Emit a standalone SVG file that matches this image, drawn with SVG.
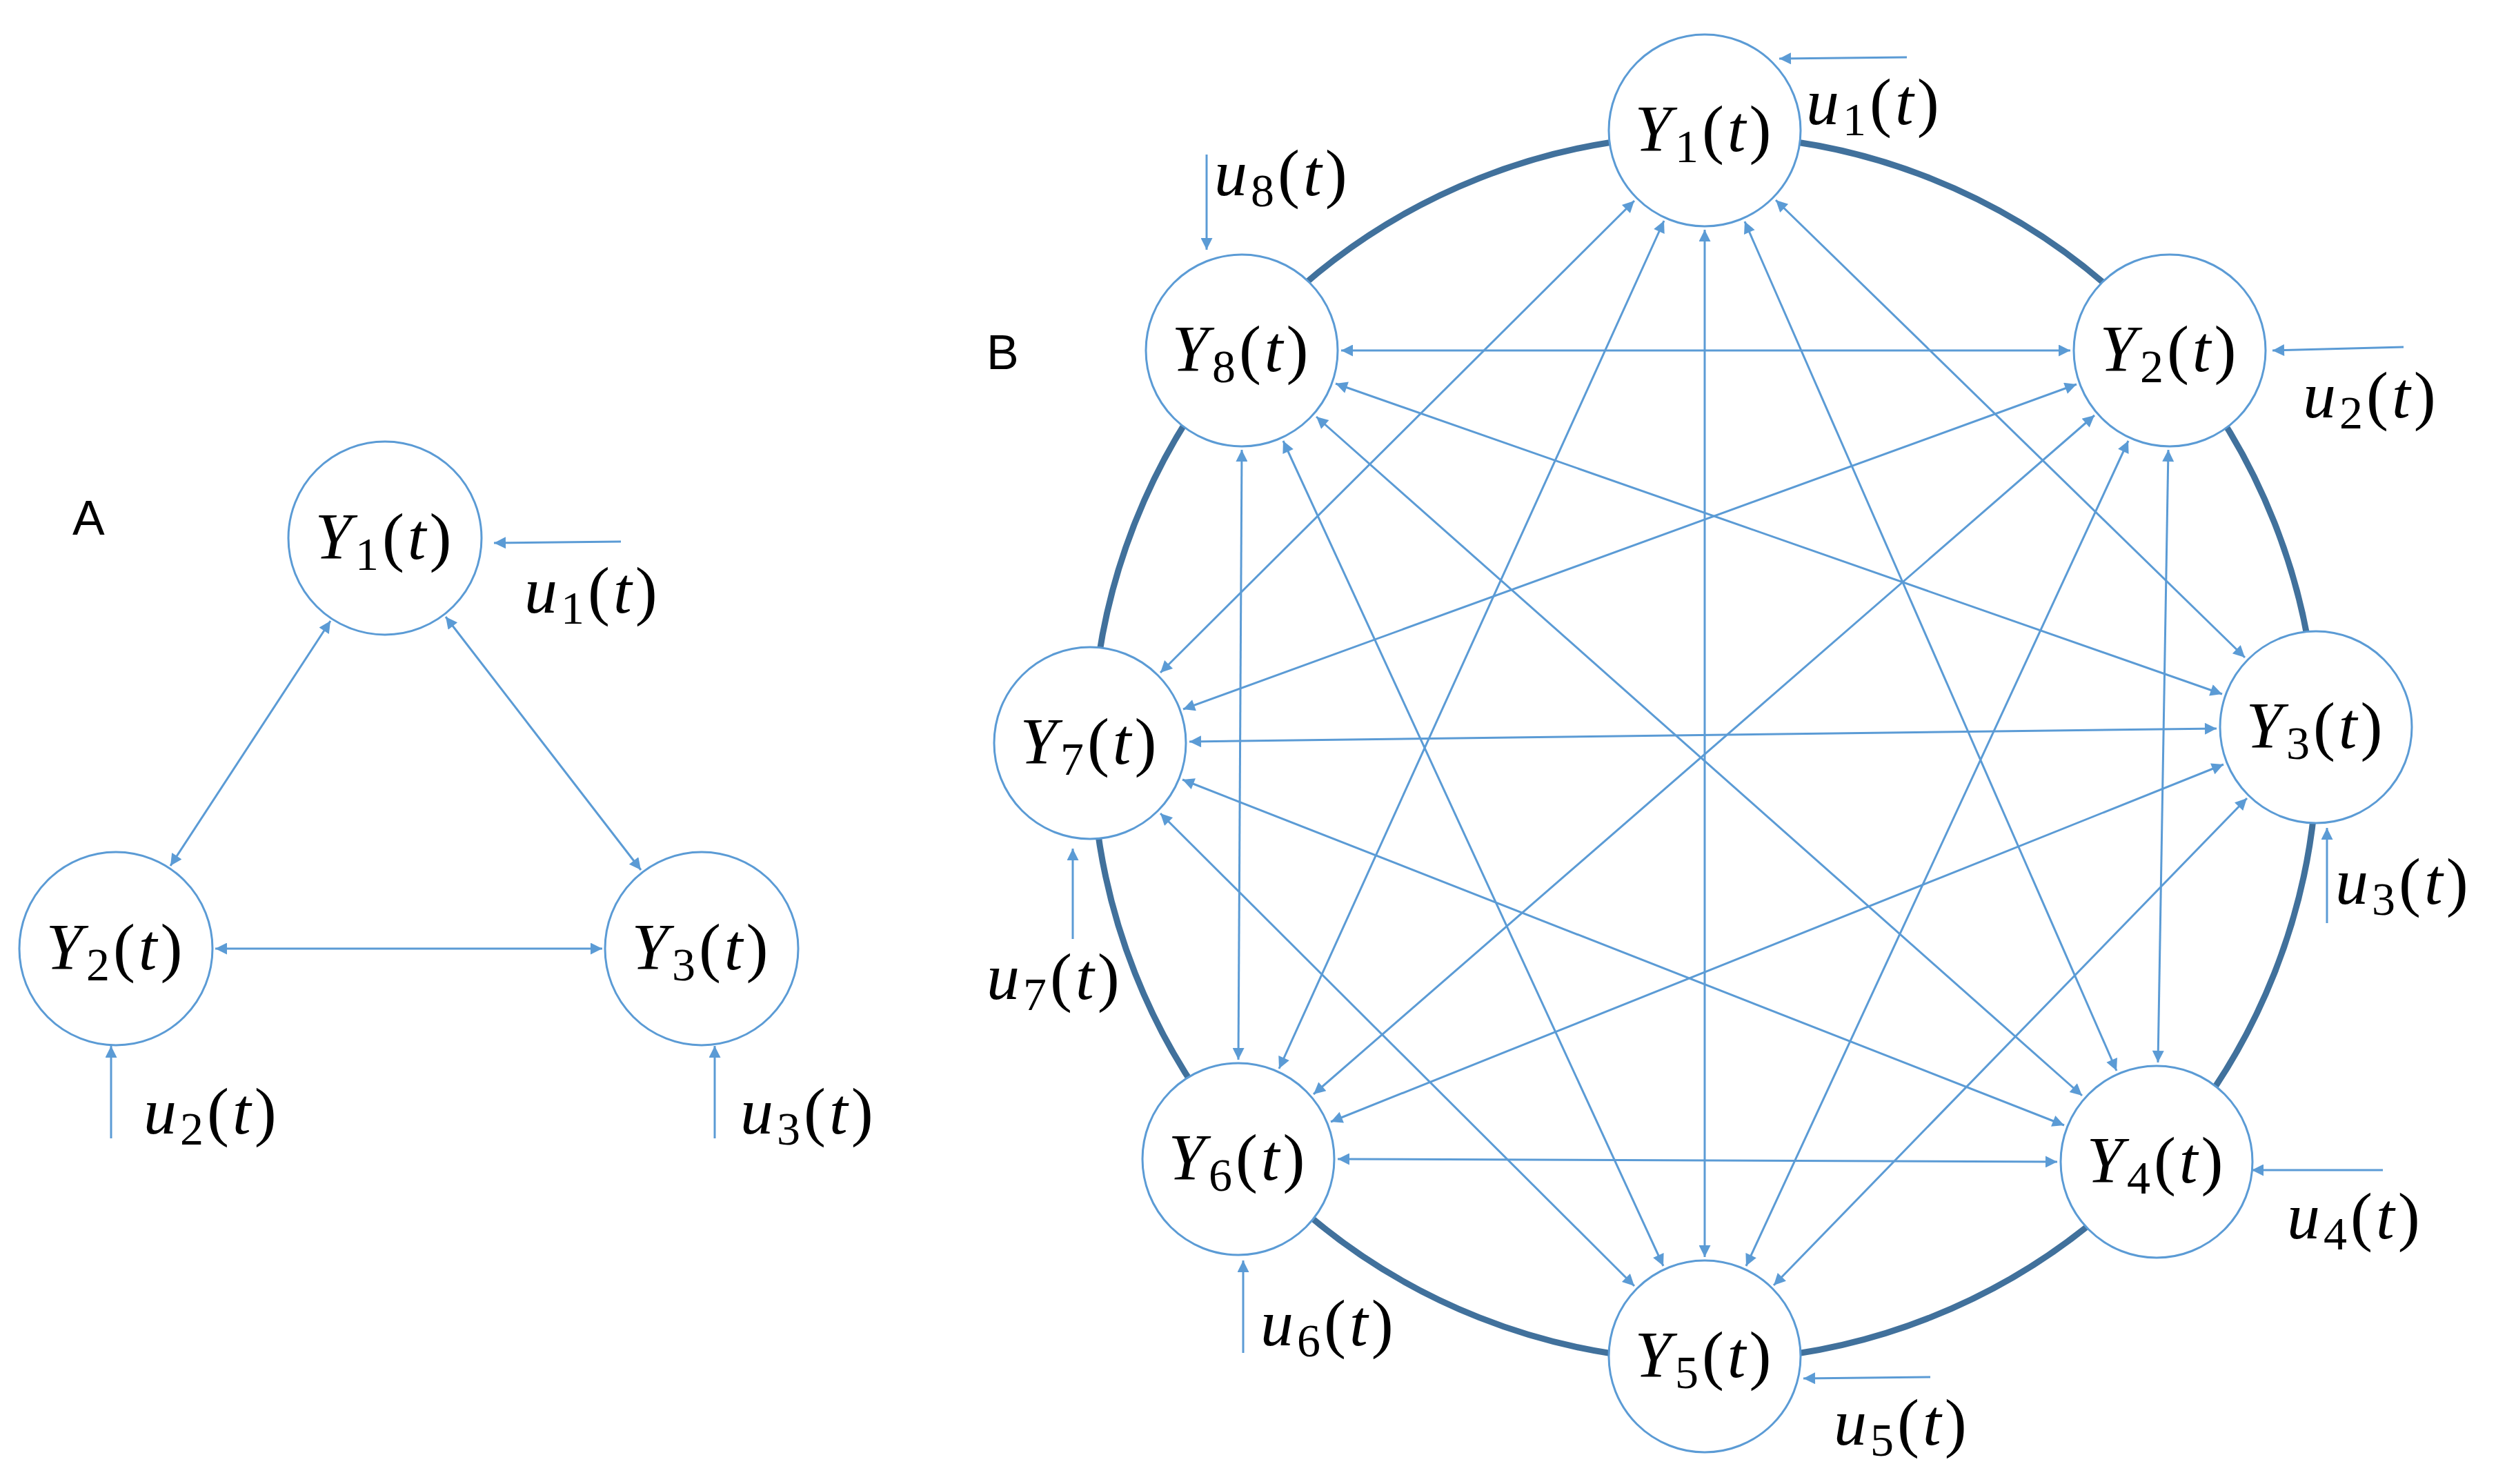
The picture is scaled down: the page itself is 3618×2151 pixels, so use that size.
<svg xmlns="http://www.w3.org/2000/svg" width="3618" height="2151" viewBox="0 0 3618 2151">
<style>
.n{fill:#fff;stroke:#5b9bd5;stroke-width:3}
.e line{stroke:#5b9bd5;stroke-width:3;marker-start:url(#ah);marker-end:url(#ah)}
.u line{stroke:#5b9bd5;stroke-width:3;marker-end:url(#ah)}
.m{font-family:"Liberation Serif","DejaVu Serif",serif;font-size:96px;letter-spacing:5px;fill:#000}
.i{font-style:italic}
.s{font-size:68px}
.lab{font-family:"Liberation Sans",Arial,sans-serif;font-size:70px;fill:#000}
</style>
<defs>
<marker id="ah" viewBox="0 0 10 10" refX="10" refY="5" markerUnits="userSpaceOnUse" markerWidth="24" markerHeight="17" orient="auto-start-reverse"><path d="M0,0 L10,5 L0,10 z" fill="#5b9bd5"/></marker>
</defs>
<rect width="3618" height="2151" fill="#fff"/>
<text class="lab" x="105" y="775">A</text>
<text class="lab" x="1430" y="535">B</text>
<circle cx="2471" cy="1084" r="888" fill="none" stroke="#41719c" stroke-width="9"/>
<g class="e" id="edges">
<line x1="479" y1="900" x2="247" y2="1255"/>
<line x1="646" y1="894" x2="929" y2="1261"/>
<line x1="312" y1="1375" x2="873" y2="1375"/>
<line x1="2574" y1="290" x2="3254" y2="953"/>
<line x1="2529" y1="321" x2="3068" y2="1552"/>
<line x1="2471" y1="333" x2="2471" y2="1822"/>
<line x1="2412" y1="320" x2="1854" y2="1549"/>
<line x1="2369" y1="291" x2="1682" y2="975"/>
<line x1="3143" y1="652" x2="3128" y2="1540"/>
<line x1="3085" y1="639" x2="2531" y2="1835"/>
<line x1="3036" y1="602" x2="1904" y2="1586"/>
<line x1="3010" y1="557" x2="1715" y2="1028"/>
<line x1="3001" y1="508" x2="1944" y2="508"/>
<line x1="3257" y1="1157" x2="2571" y2="1863"/>
<line x1="3223" y1="1108" x2="1929" y2="1626"/>
<line x1="3213" y1="1056" x2="1724" y2="1075"/>
<line x1="3221" y1="1006" x2="1936" y2="556"/>
<line x1="2982" y1="1684" x2="1939" y2="1680"/>
<line x1="2992" y1="1631" x2="1714" y2="1130"/>
<line x1="3018" y1="1588" x2="1908" y2="604"/>
<line x1="2369" y1="1864" x2="1682" y2="1179"/>
<line x1="2411" y1="1835" x2="1860" y2="639"/>
<line x1="1795" y1="1536" x2="1800" y2="652"/>
</g>
<g class="u" id="inputs">
<line x1="900" y1="785" x2="716" y2="787"/>
<line x1="161" y1="1650" x2="161" y2="1516"/>
<line x1="1036" y1="1650" x2="1036" y2="1516"/>
<line x1="2764" y1="83" x2="2579" y2="85"/>
<line x1="3484" y1="503" x2="3294" y2="508"/>
<line x1="3373" y1="1338" x2="3373" y2="1200"/>
<line x1="3454" y1="1696" x2="3264" y2="1696"/>
<line x1="2798" y1="1996" x2="2614" y2="1998"/>
<line x1="1802" y1="1961" x2="1802" y2="1827"/>
<line x1="1555" y1="1361" x2="1555" y2="1230"/>
<line x1="1749" y1="224" x2="1749" y2="362"/>
</g>
<g id="A1"><circle class="n" cx="558" cy="780" r="140"/><text class="m" x="558" y="810" text-anchor="middle"><tspan class="i">Y</tspan><tspan class="s" dy="16">1</tspan><tspan dy="-16">(</tspan><tspan class="i">t</tspan>)</text></g>
<g id="A2"><circle class="n" cx="168" cy="1375" r="140"/><text class="m" x="168" y="1405" text-anchor="middle"><tspan class="i">Y</tspan><tspan class="s" dy="16">2</tspan><tspan dy="-16">(</tspan><tspan class="i">t</tspan>)</text></g>
<g id="A3"><circle class="n" cx="1017" cy="1375" r="140"/><text class="m" x="1017" y="1405" text-anchor="middle"><tspan class="i">Y</tspan><tspan class="s" dy="16">3</tspan><tspan dy="-16">(</tspan><tspan class="i">t</tspan>)</text></g>
<g id="B1"><circle class="n" cx="2471" cy="189" r="139"/><text class="m" x="2471" y="219" text-anchor="middle"><tspan class="i">Y</tspan><tspan class="s" dy="16">1</tspan><tspan dy="-16">(</tspan><tspan class="i">t</tspan>)</text></g>
<g id="B2"><circle class="n" cx="3145" cy="508" r="139"/><text class="m" x="3145" y="538" text-anchor="middle"><tspan class="i">Y</tspan><tspan class="s" dy="16">2</tspan><tspan dy="-16">(</tspan><tspan class="i">t</tspan>)</text></g>
<g id="B3"><circle class="n" cx="3357" cy="1054" r="139"/><text class="m" x="3357" y="1084" text-anchor="middle"><tspan class="i">Y</tspan><tspan class="s" dy="16">3</tspan><tspan dy="-16">(</tspan><tspan class="i">t</tspan>)</text></g>
<g id="B4"><circle class="n" cx="3126" cy="1684" r="139"/><text class="m" x="3126" y="1714" text-anchor="middle"><tspan class="i">Y</tspan><tspan class="s" dy="16">4</tspan><tspan dy="-16">(</tspan><tspan class="i">t</tspan>)</text></g>
<g id="B5"><circle class="n" cx="2471" cy="1966" r="139"/><text class="m" x="2471" y="1996" text-anchor="middle"><tspan class="i">Y</tspan><tspan class="s" dy="16">5</tspan><tspan dy="-16">(</tspan><tspan class="i">t</tspan>)</text></g>
<g id="B6"><circle class="n" cx="1795" cy="1680" r="139"/><text class="m" x="1795" y="1710" text-anchor="middle"><tspan class="i">Y</tspan><tspan class="s" dy="16">6</tspan><tspan dy="-16">(</tspan><tspan class="i">t</tspan>)</text></g>
<g id="B7"><circle class="n" cx="1580" cy="1077" r="139"/><text class="m" x="1580" y="1107" text-anchor="middle"><tspan class="i">Y</tspan><tspan class="s" dy="16">7</tspan><tspan dy="-16">(</tspan><tspan class="i">t</tspan>)</text></g>
<g id="B8"><circle class="n" cx="1800" cy="508" r="139"/><text class="m" x="1800" y="538" text-anchor="middle"><tspan class="i">Y</tspan><tspan class="s" dy="16">8</tspan><tspan dy="-16">(</tspan><tspan class="i">t</tspan>)</text></g>
<g id="ulabels">
<text class="m" x="760" y="888"><tspan class="i">u</tspan><tspan class="s" dy="16">1</tspan><tspan dy="-16">(</tspan><tspan class="i">t</tspan>)</text>
<text class="m" x="208" y="1643"><tspan class="i">u</tspan><tspan class="s" dy="16">2</tspan><tspan dy="-16">(</tspan><tspan class="i">t</tspan>)</text>
<text class="m" x="1073" y="1643"><tspan class="i">u</tspan><tspan class="s" dy="16">3</tspan><tspan dy="-16">(</tspan><tspan class="i">t</tspan>)</text>
<text class="m" x="2618" y="180"><tspan class="i">u</tspan><tspan class="s" dy="16">1</tspan><tspan dy="-16">(</tspan><tspan class="i">t</tspan>)</text>
<text class="m" x="3338" y="605"><tspan class="i">u</tspan><tspan class="s" dy="16">2</tspan><tspan dy="-16">(</tspan><tspan class="i">t</tspan>)</text>
<text class="m" x="3385" y="1310"><tspan class="i">u</tspan><tspan class="s" dy="16">3</tspan><tspan dy="-16">(</tspan><tspan class="i">t</tspan>)</text>
<text class="m" x="3315" y="1795"><tspan class="i">u</tspan><tspan class="s" dy="16">4</tspan><tspan dy="-16">(</tspan><tspan class="i">t</tspan>)</text>
<text class="m" x="2658" y="2094"><tspan class="i">u</tspan><tspan class="s" dy="16">5</tspan><tspan dy="-16">(</tspan><tspan class="i">t</tspan>)</text>
<text class="m" x="1827" y="1950"><tspan class="i">u</tspan><tspan class="s" dy="16">6</tspan><tspan dy="-16">(</tspan><tspan class="i">t</tspan>)</text>
<text class="m" x="1430" y="1448"><tspan class="i">u</tspan><tspan class="s" dy="16">7</tspan><tspan dy="-16">(</tspan><tspan class="i">t</tspan>)</text>
<text class="m" x="1760" y="283"><tspan class="i">u</tspan><tspan class="s" dy="16">8</tspan><tspan dy="-16">(</tspan><tspan class="i">t</tspan>)</text>
</g>
</svg>
